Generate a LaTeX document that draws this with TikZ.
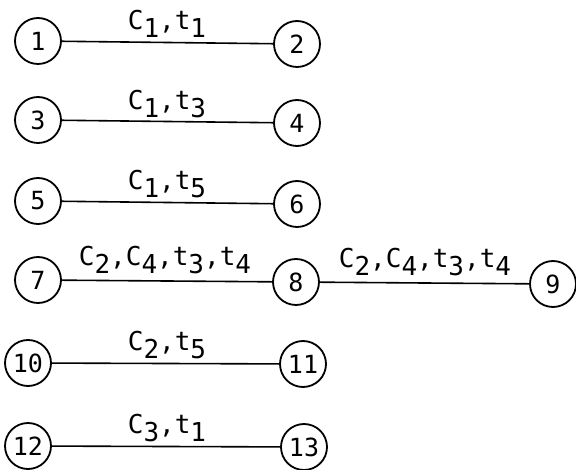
\documentclass[tikz,border=0pt]{standalone}
\usepackage{fontspec}
\setmonofont{DejaVu Sans Mono}
% lowered index digit, typewriter style
\newcommand{\lowr}[1]{\raisebox{-8pt}{#1}}
\begin{document}
\begin{tikzpicture}[x=1pt,y=-1pt,
  vert/.style={circle,draw,line width=1.8pt,minimum size=46pt,inner sep=0pt,
    font=\ttfamily\fontsize{25}{25}\selectfont},
  edge/.style={line width=1.6pt},
  elab/.style={anchor=base,inner sep=0pt,font=\ttfamily\fontsize{26}{26}\selectfont}]
\useasboundingbox (0,0) rectangle (576,470);
% vertices
\node[vert] (n1)  at (38,41)   {1};
\node[vert] (n2)  at (297,44)  {2};
\node[vert] (n3)  at (38,120)  {3};
\node[vert] (n4)  at (297,123) {4};
\node[vert] (n5)  at (38,201)  {5};
\node[vert] (n6)  at (297,204) {6};
\node[vert] (n7)  at (38,280)  {7};
\node[vert] (n8)  at (296,282) {8};
\node[vert] (n9)  at (553,284) {9};
\node[vert] (n10) at (28,363)  {10};
\node[vert] (n11) at (303,364) {11};
\node[vert] (n12) at (28,446)  {12};
\node[vert] (n13) at (304,447) {13};
% edges
\draw[edge] (n1) -- (n2);
\draw[edge] (n3) -- (n4);
\draw[edge] (n5) -- (n6);
\draw[edge] (n7) -- (n8);
\draw[edge] (n8) -- (n9);
\draw[edge] (n10) -- (n11);
\draw[edge] (n12) -- (n13);
% edge labels
\node[elab] (l12)  at (167,30)  {C\lowr{1},t\lowr{1}};
\node[elab] (l34)  at (167,110) {C\lowr{1},t\lowr{3}};
\node[elab] (l56)  at (167,190) {C\lowr{1},t\lowr{5}};
\node[elab] (l78)  at (165,266) {C\lowr{2},C\lowr{4},t\lowr{3},t\lowr{4}};
\node[elab] (l89)  at (425,268) {C\lowr{2},C\lowr{4},t\lowr{3},t\lowr{4}};
\node[elab] (l1011) at (167,351) {C\lowr{2},t\lowr{5}};
\node[elab] (l1213) at (167,434) {C\lowr{3},t\lowr{1}};
\end{tikzpicture}
\end{document}
